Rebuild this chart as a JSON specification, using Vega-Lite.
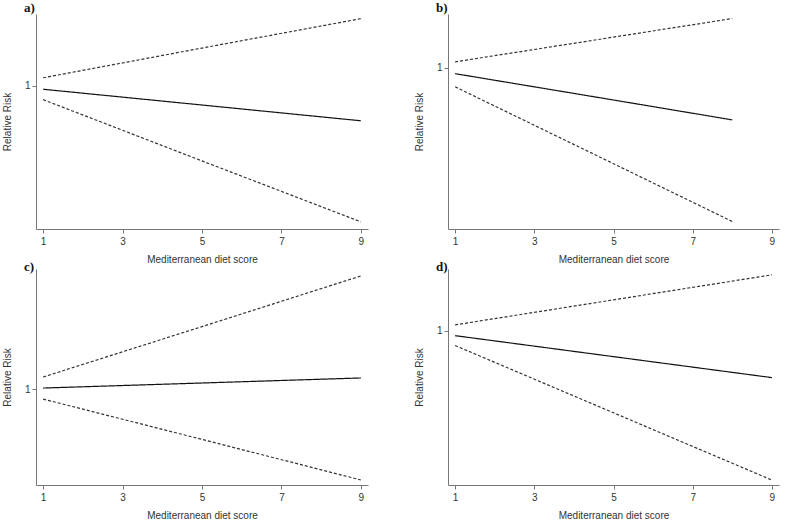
{
  "$schema": "https://vega.github.io/schema/vega-lite/v6.json",
  "background": "white",
  "padding": {"left": 2, "top": 2, "right": 5, "bottom": 2},
  "data": {
    "values": [
      {"panel": "a", "score": 1, "series": "lo", "rr": 0.961},
      {"panel": "a", "score": 5, "series": "lo", "rr": 0.790},
      {"panel": "a", "score": 9, "series": "lo", "rr": 0.620},
      {"panel": "a", "score": 1, "series": "est", "rr": 0.990},
      {"panel": "a", "score": 5, "series": "est", "rr": 0.946},
      {"panel": "a", "score": 9, "series": "est", "rr": 0.902},
      {"panel": "a", "score": 1, "series": "hi", "rr": 1.022},
      {"panel": "a", "score": 5, "series": "hi", "rr": 1.105},
      {"panel": "a", "score": 9, "series": "hi", "rr": 1.187},
      {"panel": "b", "score": 1, "series": "lo", "rr": 0.929},
      {"panel": "b", "score": 5, "series": "lo", "rr": 0.643},
      {"panel": "b", "score": 8, "series": "lo", "rr": 0.428},
      {"panel": "b", "score": 1, "series": "est", "rr": 0.978},
      {"panel": "b", "score": 5, "series": "est", "rr": 0.880},
      {"panel": "b", "score": 8, "series": "est", "rr": 0.806},
      {"panel": "b", "score": 1, "series": "hi", "rr": 1.022},
      {"panel": "b", "score": 5, "series": "hi", "rr": 1.114},
      {"panel": "b", "score": 8, "series": "hi", "rr": 1.183},
      {"panel": "c", "score": 1, "series": "lo", "rr": 0.958},
      {"panel": "c", "score": 5, "series": "lo", "rr": 0.790},
      {"panel": "c", "score": 9, "series": "lo", "rr": 0.621},
      {"panel": "c", "score": 1, "series": "est", "rr": 1.004},
      {"panel": "c", "score": 5, "series": "est", "rr": 1.025},
      {"panel": "c", "score": 9, "series": "est", "rr": 1.046},
      {"panel": "c", "score": 1, "series": "hi", "rr": 1.050},
      {"panel": "c", "score": 5, "series": "hi", "rr": 1.260},
      {"panel": "c", "score": 9, "series": "hi", "rr": 1.471},
      {"panel": "d", "score": 1, "series": "lo", "rr": 0.952},
      {"panel": "d", "score": 5, "series": "lo", "rr": 0.734},
      {"panel": "d", "score": 9, "series": "lo", "rr": 0.516},
      {"panel": "d", "score": 1, "series": "est", "rr": 0.984},
      {"panel": "d", "score": 5, "series": "est", "rr": 0.916},
      {"panel": "d", "score": 9, "series": "est", "rr": 0.848},
      {"panel": "d", "score": 1, "series": "hi", "rr": 1.019},
      {"panel": "d", "score": 5, "series": "hi", "rr": 1.100},
      {"panel": "d", "score": 9, "series": "hi", "rr": 1.181}
    ]
  },
  "columns": 2,
  "bounds": "flush",
  "spacing": {"row": 40, "column": 80},
  "concat": [
    {
      "title": {"text": "a)", "offset": -1},
      "width": 332,
      "height": 215,
      "transform": [{"filter": "datum.panel == 'a'"}],
      "mark": {"type": "line", "strokeWidth": 1.2},
      "encoding": {
        "x": {"field": "score", "type": "quantitative", "title": "Mediterranean diet score", "scale": {"domain": [0.82, 9.18], "nice": false}, "axis": {"values": [1, 3, 5, 7, 9]}},
        "y": {"field": "rr", "type": "quantitative", "title": "Relative Risk", "scale": {"domain": [0.6, 1.2], "nice": false, "zero": false}, "axis": {"values": [1], "format": "d"}},
        "detail": {"field": "series"},
        "strokeDash": {"field": "series", "type": "nominal", "scale": {"domain": ["est", "lo", "hi"], "range": [[1, 0], [3, 2], [3, 2]]}, "legend": null},
        "color": {"field": "series", "type": "nominal", "scale": {"domain": ["est", "lo", "hi"], "range": ["#111111", "#333333", "#333333"]}, "legend": null}
      }
    },
    {
      "title": {"text": "b)", "offset": -1},
      "width": 331,
      "height": 215,
      "transform": [{"filter": "datum.panel == 'b'"}],
      "mark": {"type": "line", "strokeWidth": 1.2},
      "encoding": {
        "x": {"field": "score", "type": "quantitative", "title": "Mediterranean diet score", "scale": {"domain": [0.82, 9.18], "nice": false}, "axis": {"values": [1, 3, 5, 7, 9]}},
        "y": {"field": "rr", "type": "quantitative", "title": "Relative Risk", "scale": {"domain": [0.4, 1.2], "nice": false, "zero": false}, "axis": {"values": [1], "format": "d"}},
        "detail": {"field": "series"},
        "strokeDash": {"field": "series", "type": "nominal", "scale": {"domain": ["est", "lo", "hi"], "range": [[1, 0], [3, 2], [3, 2]]}, "legend": null},
        "color": {"field": "series", "type": "nominal", "scale": {"domain": ["est", "lo", "hi"], "range": ["#111111", "#333333", "#333333"]}, "legend": null}
      }
    },
    {
      "title": {"text": "c)", "offset": -5},
      "width": 332,
      "height": 216,
      "transform": [{"filter": "datum.panel == 'c'"}],
      "mark": {"type": "line", "strokeWidth": 1.2},
      "encoding": {
        "x": {"field": "score", "type": "quantitative", "title": "Mediterranean diet score", "scale": {"domain": [0.82, 9.18], "nice": false}, "axis": {"values": [1, 3, 5, 7, 9]}},
        "y": {"field": "rr", "type": "quantitative", "title": "Relative Risk", "scale": {"domain": [0.6, 1.5], "nice": false, "zero": false}, "axis": {"values": [1], "format": "d"}},
        "detail": {"field": "series"},
        "strokeDash": {"field": "series", "type": "nominal", "scale": {"domain": ["est", "lo", "hi"], "range": [[1, 0], [3, 2], [3, 2]]}, "legend": null},
        "color": {"field": "series", "type": "nominal", "scale": {"domain": ["est", "lo", "hi"], "range": ["#111111", "#333333", "#333333"]}, "legend": null}
      }
    },
    {
      "title": {"text": "d)", "offset": -5},
      "width": 331,
      "height": 216,
      "transform": [{"filter": "datum.panel == 'd'"}],
      "mark": {"type": "line", "strokeWidth": 1.2},
      "encoding": {
        "x": {"field": "score", "type": "quantitative", "title": "Mediterranean diet score", "scale": {"domain": [0.82, 9.18], "nice": false}, "axis": {"values": [1, 3, 5, 7, 9]}},
        "y": {"field": "rr", "type": "quantitative", "title": "Relative Risk", "scale": {"domain": [0.5, 1.2], "nice": false, "zero": false}, "axis": {"values": [1], "format": "d"}},
        "detail": {"field": "series"},
        "strokeDash": {"field": "series", "type": "nominal", "scale": {"domain": ["est", "lo", "hi"], "range": [[1, 0], [3, 2], [3, 2]]}, "legend": null},
        "color": {"field": "series", "type": "nominal", "scale": {"domain": ["est", "lo", "hi"], "range": ["#111111", "#333333", "#333333"]}, "legend": null}
      }
    }
  ],
  "resolve": {"scale": {"x": "independent", "y": "independent"}},
  "config": {
    "view": {"stroke": null},
    "font": "Liberation Sans",
    "axis": {
      "grid": false,
      "domainColor": "#777777",
      "tickColor": "#777777",
      "tickSize": 4,
      "labelColor": "#333333",
      "labelFontSize": 10,
      "labelFont": "Liberation Sans",
      "titleFont": "Liberation Sans",
      "titleFontSize": 10,
      "titleFontWeight": "normal",
      "titleColor": "#333333"
    },
    "axisX": {"labelPadding": 3, "titlePadding": 8},
    "axisY": {"labelPadding": 2, "titlePadding": 12},
    "title": {
      "font": "Liberation Serif",
      "fontSize": 13,
      "fontWeight": "bold",
      "color": "#111111",
      "anchor": "start",
      "frame": "group",
      "dx": -12
    }
  }
}
